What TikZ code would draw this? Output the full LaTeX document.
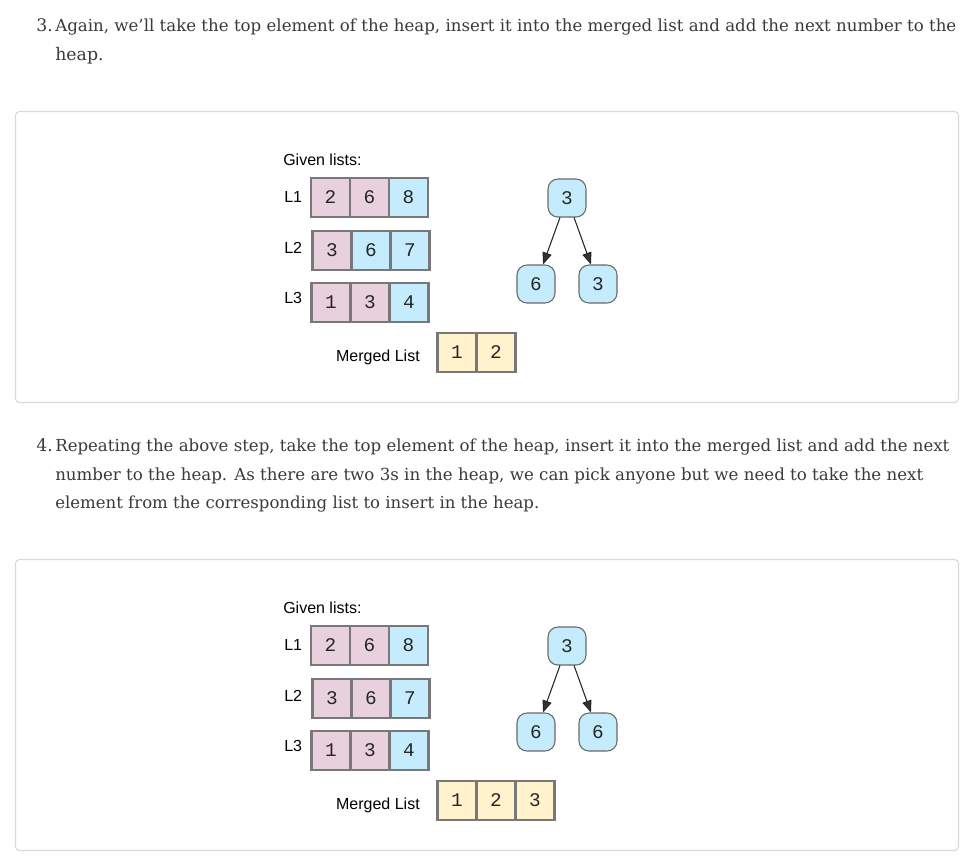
\documentclass[tikz,border=0pt]{standalone}
\usepackage{fontspec}
\usepackage{graphicx}
\usetikzlibrary{arrows.meta}
\newfontfamily\parafont{DejaVu Serif}
\newfontfamily\labfont{Liberation Sans}
\newfontfamily\digfont{Liberation Mono}
\definecolor{paratext}{HTML}{3A3A3A}
\definecolor{cardline}{HTML}{D9D9D9}
\definecolor{cellline}{HTML}{787878}
\definecolor{pinkcell}{HTML}{E8D1DC}
\definecolor{bluecell}{HTML}{C4ECFC}
\definecolor{yellowcell}{HTML}{FFF2CC}
\definecolor{heapline}{HTML}{6A6A6A}
\definecolor{arrowfill}{HTML}{333333}
\newlength\fitlen
\newcommand\fitline[2]{\settowidth\fitlen{#2}\ifdim\fitlen>#1\relax\resizebox{#1}{!}{#2}\else\makebox[#1][s]{#2}\fi}
\tikzset{
  para/.style={inner sep=0pt, anchor=base west, text=paratext, font=\parafont\fontsize{13pt}{15pt}\selectfont},
  lbl/.style={inner sep=0pt, anchor=base west, text=black, font=\labfont\fontsize{12pt}{14pt}\selectfont},
  card/.style={draw=cardline, line width=0.8pt, rounded corners=3pt, fill=white},
  cell/.style={draw=cellline, line width=1.6pt, minimum width=29.25pt, minimum height=29.25pt, inner sep=0pt, text=black!85, font=\digfont\fontsize{14.5pt}{16pt}\selectfont},
  pinkc/.style={cell, fill=pinkcell},
  bluec/.style={cell, fill=bluecell},
  yellowc/.style={cell, fill=yellowcell},
  heapnode/.style={draw=heapline, line width=0.8pt, fill=bluecell, rounded corners=7.5pt, minimum width=28.5pt, minimum height=28.5pt, inner sep=0pt, text=black!85, font=\digfont\fontsize{14.5pt}{16pt}\selectfont},
  heaparrow/.style={draw=black!85, line width=0.8pt, -{Triangle[length=9pt,width=7pt,fill=arrowfill]}}
}
\begin{document}
\begin{tikzpicture}[x=0.75pt,y=-0.75pt]
\useasboundingbox (0,0) rectangle (967,858);
\fill[white] (0,0) rectangle (967,858);
% paragraph 3
\node[para] (p3num) at (36,31) {3.};
\node[para] (p3l1) at (55,31) {\fitline{675.75pt}{Again, we’ll take the top element of the heap, insert it into the merged list and add the next number to the}};
\node[para] (p3l2) at (55,60) {heap.};
% card 1
\draw[card] (15.5,111.5) rectangle (958.5,402.5);
\node[lbl] (a-given) at (283,165) {Given lists:};
\node[lbl] (a-L1) at (284,202) {L1};
\node[lbl] (a-L2) at (284,253) {L2};
\node[lbl] (a-L3) at (284,303) {L3};
\node[pinkc] (a-11) at (330.5,197.5) {2};
\node[pinkc] (a-12) at (369.5,197.5) {6};
\node[bluec] (a-13) at (408.5,197.5) {8};
\node[pinkc] (a-21) at (332,250.5) {3};
\node[bluec] (a-22) at (371,250.5) {6};
\node[bluec] (a-23) at (410,250.5) {7};
\node[pinkc] (a-31) at (331,302.5) {1};
\node[pinkc] (a-32) at (370,302.5) {3};
\node[bluec] (a-33) at (409,302.5) {4};
\node[lbl, anchor=base east] (a-merged) at (420,361) {Merged List};
\node[yellowc] (a-m1) at (457,352.5) {1};
\node[yellowc] (a-m2) at (496,352.5) {2};
\node[heapnode] (a-top) at (567,198) {3};
\node[heapnode] (a-left) at (536,284) {6};
\node[heapnode] (a-right) at (598,284) {3};
\draw[heaparrow] (a-top) -- (a-left);
\draw[heaparrow] (a-top) -- (a-right);
% paragraph 4
\node[para] (p4num) at (36,451) {4.};
\node[para] (p4l1) at (55,451) {\fitline{670.5pt}{Repeating the above step, take the top element of the heap, insert it into the merged list and add the next}};
\node[para] (p4l2) at (55,480) {\fitline{651pt}{number to the heap. As there are two 3s in the heap, we can pick anyone but we need to take the next}};
\node[para] (p4l3) at (55,508) {\fitline{363pt}{element from the corresponding list to insert in the heap.}};
% card 2
\draw[card] (15.5,559.5) rectangle (958.5,850.5);
\node[lbl] (b-given) at (283,613) {Given lists:};
\node[lbl] (b-L1) at (284,650) {L1};
\node[lbl] (b-L2) at (284,701) {L2};
\node[lbl] (b-L3) at (284,751) {L3};
\node[pinkc] (b-11) at (330.5,645.5) {2};
\node[pinkc] (b-12) at (369.5,645.5) {6};
\node[bluec] (b-13) at (408.5,645.5) {8};
\node[pinkc] (b-21) at (332,698.5) {3};
\node[pinkc] (b-22) at (371,698.5) {6};
\node[bluec] (b-23) at (410,698.5) {7};
\node[pinkc] (b-31) at (331,750.5) {1};
\node[pinkc] (b-32) at (370,750.5) {3};
\node[bluec] (b-33) at (409,750.5) {4};
\node[lbl, anchor=base east] (b-merged) at (420,809) {Merged List};
\node[yellowc] (b-m1) at (457,800.5) {1};
\node[yellowc] (b-m2) at (496,800.5) {2};
\node[yellowc] (b-m3) at (535,800.5) {3};
\node[heapnode] (b-top) at (567,646) {3};
\node[heapnode] (b-left) at (536,732) {6};
\node[heapnode] (b-right) at (598,732) {6};
\draw[heaparrow] (b-top) -- (b-left);
\draw[heaparrow] (b-top) -- (b-right);
\end{tikzpicture}
\end{document}
